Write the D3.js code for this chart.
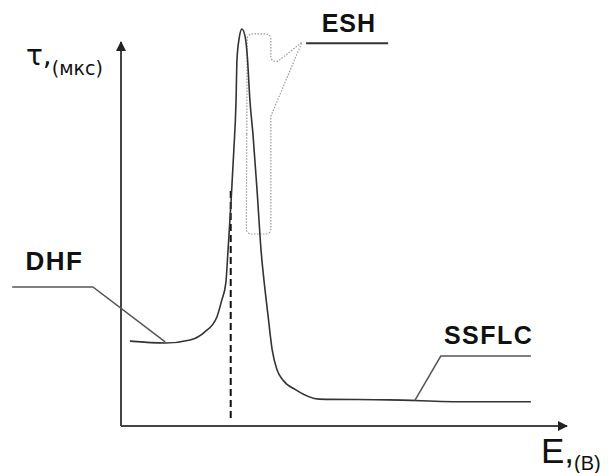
<!DOCTYPE html>
<html><head><meta charset="utf-8">
<script src="https://cdn.jsdelivr.net/npm/d3@7"></script>
<style>body{margin:0;background:#fff}svg{display:block}</style>
</head><body>
<script>
// Data (arbitrary units)
const E = [0.20,0.99,1.55,1.88,2.15,2.26,2.35,2.40,2.47,2.53,2.58,2.60,2.65,2.71,2.78,2.83,2.89,2.96,3.05,3.14,3.23,3.30,3.39,3.50,3.63,3.92,4.44,6.01,7.76,9.19];
const tau = [2.21,2.16,2.24,2.45,2.84,3.28,3.72,4.58,5.89,7.19,8.49,9.53,10.10,10.34,10.16,9.66,8.49,7.58,6.15,4.58,3.54,2.84,1.98,1.46,1.20,0.94,0.70,0.68,0.63,0.63];
const dashE = [2.46, 2.46];
const dashTau = [6.12, 0.16];
const dhfLeaderE = [-2.44, -0.63, 0.99];
const dhfLeaderTau = [3.62, 3.62, 2.19];
const ssflcLeaderE = [9.19, 7.17, 6.59];
const ssflcLeaderTau = [1.82, 1.82, 0.67];
const eshShapeE = [2.83, 3.36, 3.36, 4.06, 3.36, 3.36, 2.81];
const eshShapeTau = [10.21, 10.21, 9.35, 10.0, 8.07, 5.0, 5.0];
const eshLineE = [4.15, 5.99];
const eshLineTau = [9.97, 9.97];
const labels = ["DHF", "ESH", "SSFLC"];
const labelE = [-2.14, 4.50, 7.24];
const labelTau = [4.05, 10.26, 2.13];

const W = 611, H = 473;
const svg = d3.select("body").append("svg").attr("width", W).attr("height", H);
const x = d3.scaleLinear().domain([0, 10]).range([121, 567]);
const y = d3.scaleLinear().domain([0, 10]).range([426, 42]);

// axes with arrows
const defs = svg.append("defs");
defs.append("marker").attr("id","arr").attr("viewBox","0 0 10 10").attr("refX",9).attr("refY",5)
  .attr("markerWidth",6).attr("markerHeight",5).attr("markerUnits","strokeWidth").attr("orient","auto")
  .append("path").attr("d","M0,0L10,5L0,10Z").attr("fill","#222");
svg.append("line").attr("x1", x(0)).attr("y1", y(0)).attr("x2", x(0)).attr("y2", y(10))
  .attr("stroke","#444").attr("stroke-width",2).attr("marker-end","url(#arr)");
svg.append("line").attr("x1", x(0)).attr("y1", y(0)).attr("x2", x(10)).attr("y2", y(0))
  .attr("stroke","#444").attr("stroke-width",2).attr("marker-end","url(#arr)");

const lin = d3.line().x(d => x(d[0])).y(d => y(d[1]));

// dashed line
svg.append("path").attr("d", lin(d3.zip(dashE, dashTau)))
  .attr("stroke","#111").attr("stroke-width",2).attr("stroke-dasharray","7,4").attr("fill","none");

// ESH dotted callout shape
(function(){
  const pts = d3.zip(eshShapeE, eshShapeTau).map(d => [x(d[0]), y(d[1])]);
  const p = d3.path();
  const r = 5;
  const n = pts.length;
  const mid = (a,b) => [(a[0]+b[0])/2,(a[1]+b[1])/2];
  const s = mid(pts[n-1], pts[0]);
  p.moveTo(s[0], s[1]);
  for (let i = 0; i < n; i++) {
    const c = pts[i], nx = pts[(i+1)%n];
    const rr = (i === 3) ? 0.1 : r;
    p.arcTo(c[0], c[1], nx[0], nx[1], rr);
  }
  p.closePath();
  svg.append("path").attr("d", p.toString()).attr("fill","none")
    .attr("stroke","#999").attr("stroke-width",1.2).attr("stroke-dasharray","1.5,1.5");
})();

// main curve
svg.append("path").attr("d", d3.line().x(d => x(d[0])).y(d => y(d[1])).curve(d3.curveMonotoneX)(d3.zip(E, tau)))
  .attr("fill","none").attr("stroke","#333").attr("stroke-width",1.6);

// leaders
svg.append("path").attr("d", lin(d3.zip(dhfLeaderE, dhfLeaderTau))).attr("fill","none").attr("stroke","#555").attr("stroke-width",1.5);
svg.append("path").attr("d", lin(d3.zip(ssflcLeaderE, ssflcLeaderTau))).attr("fill","none").attr("stroke","#555").attr("stroke-width",1.5);
svg.append("path").attr("d", lin(d3.zip(eshLineE, eshLineTau))).attr("fill","none").attr("stroke","#333").attr("stroke-width",2);

// labels
const lsize = [26, 25, 25];
const lspace = [1.5, 1, 1.5];
labels.forEach((t, i) => {
  svg.append("text").attr("x", x(labelE[i])).attr("y", y(labelTau[i]))
    .attr("font-family","Liberation Sans, Arial, sans-serif").attr("font-weight","bold")
    .attr("font-size",lsize[i]).attr("letter-spacing",lspace[i]).attr("fill","#111").text(t);
});

// axis titles
const yt = svg.append("text").attr("x",26).attr("y",65).attr("font-family","DejaVu Sans, sans-serif").attr("fill","#111");
yt.append("tspan").attr("font-size",28).text("τ,");
yt.append("tspan").attr("font-size",19).attr("dy",10).text("(мкс)");

const xt = svg.append("text").attr("x",541).attr("y",463).attr("font-family","Liberation Sans, Arial, sans-serif").attr("fill","#111");
xt.append("tspan").attr("font-size",35).text("E,");
xt.append("tspan").attr("font-size",20).attr("dy",7).text("(B)");
</script>
</body></html>
